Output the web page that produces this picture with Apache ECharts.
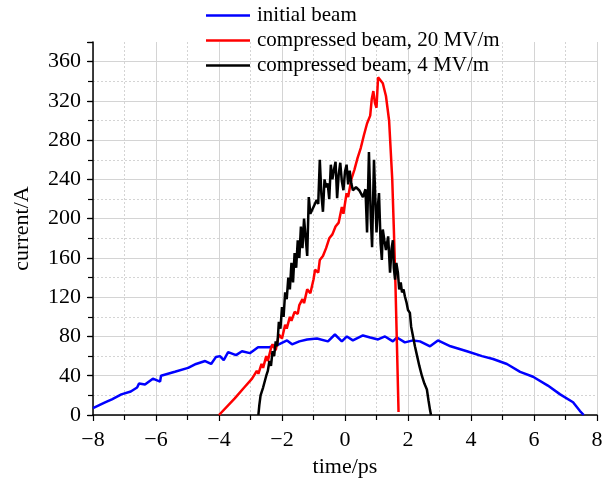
<!DOCTYPE html>
<html>
<head>
<meta charset="utf-8">
<script src="https://cdn.jsdelivr.net/npm/echarts@6/dist/echarts.min.js"></script>
<style>
html,body{margin:0;padding:0;background:#fff;}
#chart{width:607px;height:483px;}
</style>
</head>
<body>
<div id="chart"></div>
<script>
var seriesNames = ['initial beam', 'compressed beam, 20 MV/m', 'compressed beam, 4 MV/m'];
var xTicks = [-8, -6, -4, -2, 0, 2, 4, 6, 8];
var yTicks = [0, 40, 80, 120, 160, 200, 240, 280, 320, 360];

var initialBeam = [
  [-8,7],[-7.8,10],[-7.6,13],[-7.4,16],[-7.1,21],[-6.8,24],[-6.6,28],[-6.54,32],[-6.35,31],
  [-6.1,37],[-5.87,34],[-5.84,40],[-5.4,44],[-4.98,48],[-4.73,52],[-4.44,55],[-4.25,52],
  [-4.1,59],[-3.97,60],[-3.85,56],[-3.71,64],[-3.46,61],[-3.27,65],[-3.02,63],[-2.76,69],
  [-2.4,69],[-2.1,72],[-1.84,76],[-1.68,72],[-1.45,75],[-1.2,77],[-0.89,78],[-0.54,75],
  [-0.32,82],[-0.1,75],[0.06,80],[0.25,76],[0.57,81],[0.8,79],[1.05,77],[1.27,80],
  [1.52,75],[1.65,79],[1.9,74],[2.16,76],[2.38,75],[2.7,70],[2.95,76],[3.35,70],
  [3.87,65],[4.35,60],[4.7,57],[5.14,52],[5.56,44],[5.97,39],[6.44,30],[6.83,21],
  [7.24,13],[7.46,4],[7.58,0]
];

var beam20 = [
  [-4,0],[-3.5,17],[-3.2,28],[-2.95,37],[-2.9,36],[-2.8,45],[-2.75,42],[-2.65,52],[-2.6,48],
  [-2.5,60],[-2.45,55],[-2.35,68],[-2.3,72],[-2.2,66],[-2.1,82],[-2.0,78],[-1.9,92],[-1.85,88],
  [-1.75,100],[-1.7,96],[-1.6,105],[-1.5,103],[-1.45,112],[-1.35,118],[-1.3,114],[-1.2,128],
  [-1.1,124],[-1.0,138],[-0.95,148],[-0.85,145],[-0.8,158],[-0.7,162],[-0.6,170],[-0.5,180],
  [-0.4,184],[-0.3,192],[-0.2,196],[-0.1,212],[-0.05,205],[0.05,226],[0.1,222],[0.2,240],
  [0.3,250],[0.4,262],[0.5,272],[0.6,285],[0.7,297],[0.8,305],[0.85,322],[0.9,330],
  [0.95,318],[1.0,313],[1.05,344],[1.1,343],[1.2,338],[1.3,325],[1.4,300],[1.5,240],
  [1.55,190],[1.6,135],[1.65,70],[1.7,3]
];

var beam4 = [
  [-2.75,0],[-2.72,10],[-2.68,20],[-2.6,28],[-2.5,40],[-2.45,45],[-2.4,55],[-2.35,50],
  [-2.3,65],[-2.25,60],[-2.2,75],[-2.15,70],[-2.1,95],[-2.05,88],[-2.0,110],[-1.95,100],
  [-1.9,125],[-1.85,118],[-1.8,140],[-1.75,128],[-1.7,155],[-1.65,135],[-1.6,165],[-1.55,150],
  [-1.5,178],[-1.45,160],[-1.4,192],[-1.35,170],[-1.3,200],[-1.25,198],[-1.2,162],[-1.15,222],
  [-1.1,205],[-1.0,212],[-0.9,219],[-0.85,215],[-0.8,260],[-0.75,225],[-0.7,207],[-0.65,240],
  [-0.6,232],[-0.55,236],[-0.5,220],[-0.45,255],[-0.4,240],[-0.35,250],[-0.3,258],[-0.25,221],
  [-0.2,245],[-0.15,257],[-0.1,238],[-0.05,229],[0.0,248],[0.05,255],[0.1,235],[0.15,249],
  [0.2,236],[0.25,229],[0.35,232],[0.45,229],[0.5,230],[0.57,222],[0.65,230],[0.7,186],
  [0.76,268],[0.82,200],[0.86,171],[0.92,260],[1.0,186],[1.05,215],[1.08,226],[1.13,175],
  [1.17,158],[1.2,189],[1.25,178],[1.3,168],[1.37,182],[1.43,145],[1.48,170],[1.52,178],
  [1.55,150],[1.59,138],[1.63,155],[1.68,145],[1.72,128],[1.77,135],[1.81,125],[1.86,128],
  [1.9,121],[1.95,115],[2.0,107],[2.06,104],[2.1,90],[2.16,80],[2.22,70],[2.29,60],
  [2.36,50],[2.44,40],[2.52,32],[2.6,26],[2.65,15],[2.7,5],[2.73,0]
];

var font = '"Liberation Serif","Times New Roman",serif';
var gridColor = '#d4d4d4';

var chart = echarts.init(document.getElementById('chart'), null, {renderer: 'canvas'});
chart.setOption({
  animation: false,
  backgroundColor: '#fff',
  grid: {left: 93, right: 10, top: 42, bottom: 67, containLabel: false},
  legend: {
    orient: 'vertical',
    left: 201,
    top: 0,
    itemWidth: 44,
    itemHeight: 14,
    itemGap: 4,
    data: seriesNames.map(function (n) { return {name: n, icon: 'path://M0,6 L44,6 L44,8.5 L0,8.5 Z'}; }),
    textStyle: {fontFamily: font, fontSize: 21, lineHeight: 20, color: '#000', padding: [0, 0, 0, 2]}
  },
  xAxis: {
    type: 'value',
    min: xTicks[0],
    max: xTicks[xTicks.length - 1],
    interval: 2,
    name: 'time/ps',
    nameLocation: 'middle',
    nameGap: 41,
    nameTextStyle: {fontFamily: font, fontSize: 22, color: '#000'},
    axisLine: {onZero: false, lineStyle: {color: '#000', width: 1.5}},
    axisTick: {length: 6, lineStyle: {color: '#000', width: 1.2}},
    minorTick: {show: true, splitNumber: 2, length: 5, lineStyle: {color: '#000', width: 1.2}},
    axisLabel: {fontFamily: font, fontSize: 22, color: '#000', margin: 14,
      formatter: function (v) { return v < 0 ? '\u2212' + (-v) : String(v); }},
    splitLine: {show: true, lineStyle: {color: gridColor, width: 1}},
    minorSplitLine: {show: true, lineStyle: {color: gridColor, width: 1, type: [2, 2]}}
  },
  yAxis: [
    {
      type: 'value',
      min: 0,
      max: 380,
      interval: 40,
      position: 'left',
      name: 'current/A',
      nameLocation: 'middle',
      nameGap: 60,
      nameTextStyle: {fontFamily: font, fontSize: 22, color: '#000'},
      axisLine: {show: true, onZero: false, lineStyle: {color: '#000', width: 1.5}},
      axisTick: {show: true, length: 6, lineStyle: {color: '#000', width: 1.2}},
      axisLabel: {fontFamily: font, fontSize: 22, color: '#000', margin: 12,
        formatter: function (v) { return yTicks.indexOf(v) >= 0 ? String(v) : ''; }},
      splitLine: {show: true, showMaxLine: false, lineStyle: {color: gridColor, width: 1}}
    },
    {
      type: 'value',
      min: 0,
      max: 380,
      interval: 20,
      position: 'left',
      axisLine: {show: false, onZero: false},
      axisTick: {show: true, length: 5, lineStyle: {color: '#000', width: 1.2}},
      axisLabel: {show: false},
      splitLine: {show: true, showMaxLine: false, showMinLine: false, lineStyle: {color: gridColor, width: 1, type: [2, 2]}}
    }
  ],
  series: [
    {name: seriesNames[0], type: 'line', data: initialBeam, showSymbol: false, symbol: 'none',
      lineStyle: {color: '#0000ff', width: 2.5}, itemStyle: {color: '#0000ff'}},
    {name: seriesNames[1], type: 'line', data: beam20, showSymbol: false, symbol: 'none',
      lineStyle: {color: '#ff0000', width: 2.5}, itemStyle: {color: '#ff0000'}},
    {name: seriesNames[2], type: 'line', data: beam4, showSymbol: false, symbol: 'none',
      lineStyle: {color: '#000000', width: 2.5}, itemStyle: {color: '#000000'}}
  ]
});
</script>
</body>
</html>
